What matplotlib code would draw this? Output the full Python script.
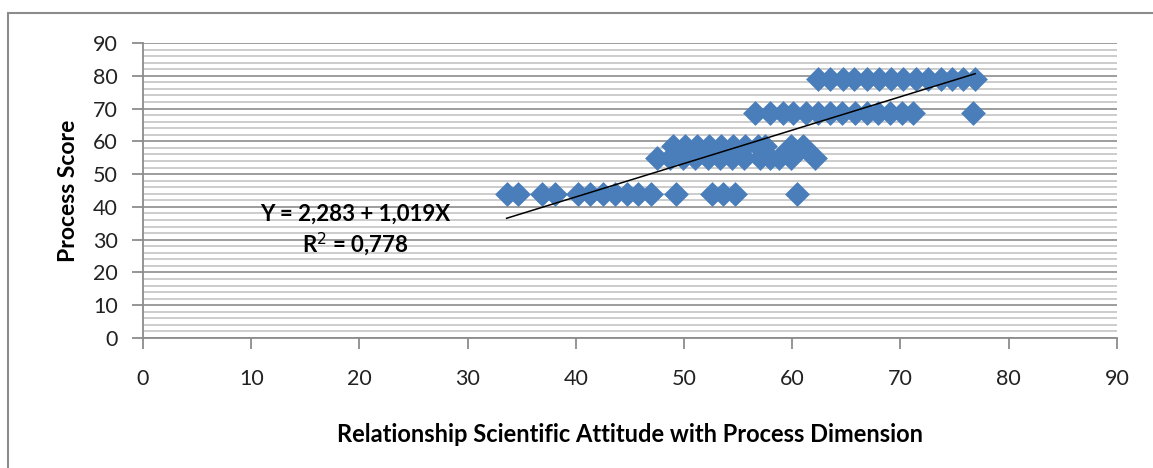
import numpy as np
import matplotlib
matplotlib.use("Agg")
import matplotlib.pyplot as plt
from matplotlib.patches import Rectangle
from matplotlib.ticker import MultipleLocator

plt.rcParams['font.family'] = ['Lato', 'DejaVu Sans']

# scatter data, one list per score row (x = scientific attitude, y = process score)
row44_x = [33.6, 34.7, 36.9, 38.1, 40.2, 41.3, 42.5, 43.6, 44.7, 45.7, 46.9,
           49.3, 52.6, 53.6, 54.7, 60.4]
row55_x = [47.5, 48.7, 49.9, 51.0, 52.2, 53.3, 54.4, 55.5, 57.0, 57.9, 58.8,
           59.9, 62.1]
row58_x = [49.0, 50.1, 51.2, 52.3, 53.4, 54.5, 55.6, 56.8, 57.5, 59.9, 61.0]
row68_x = [56.6, 57.9, 59.1, 60.1, 61.3, 62.4, 63.5, 64.6, 65.8, 66.9, 67.9,
           69.0, 70.1, 71.2, 76.7]
row79_x = [62.4, 63.5, 64.7, 65.7, 66.9, 68.0, 69.1, 70.2, 71.4, 72.5, 73.7,
           74.8, 75.8, 76.9]
row_scores = [44, 55, 58.5, 68.5, 79]

# regression from the chart annotation
intercept = 2.283
slope = 1.019
r_squared = 0.778

rows = [row44_x, row55_x, row58_x, row68_x, row79_x]
x = np.concatenate([np.array(r) for r in rows])
y = np.concatenate([np.full(len(r), s) for r, s in zip(rows, row_scores)])

fig = plt.figure(figsize=(11.53, 4.68), dpi=100)
ax = fig.add_axes([0.124, 0.2778, 0.8447, 0.6303])

# outer chart border
fig.patches.append(Rectangle((8 / 1153, -0.05), 1.2, 1 - 13 / 468 + 0.05,
                             transform=fig.transFigure, fill=False,
                             edgecolor='#8c8c8c', linewidth=1.5))

ax.scatter(x, y, marker='D', s=160, color='#4a7ebb', linewidths=0, zorder=3)

line_x = np.array([x.min(), x.max()])
ax.plot(line_x, intercept + slope * line_x, color='black', linewidth=1.1,
        zorder=4)

ax.set_xlim(0, 90)
ax.set_ylim(0, 90)
ax.xaxis.set_major_locator(MultipleLocator(10))
ax.yaxis.set_major_locator(MultipleLocator(10))
ax.yaxis.set_minor_locator(MultipleLocator(2))

ax.grid(True, which='major', axis='y', color='#8c8c8c', linewidth=1.2, zorder=0)
ax.grid(True, which='minor', axis='y', color='#c4c4c4', linewidth=1.2, zorder=0)
ax.set_axisbelow(True)

for side in ['top', 'right']:
    ax.spines[side].set_visible(False)
for side in ['left', 'bottom']:
    ax.spines[side].set_color('#8c8c8c')
    ax.spines[side].set_linewidth(1.3)

ax.tick_params(axis='both', which='major', direction='out', length=8,
               width=1.3, color='#8c8c8c', labelsize=15.5, labelcolor='#222222')
ax.tick_params(axis='y', which='minor', length=0)
ax.tick_params(axis='x', pad=14)
ax.tick_params(axis='y', pad=10)

ax.set_xlabel('Relationship Scientific Attitude with Process Dimension',
              fontsize=17, fontweight='bold', labelpad=25)
ax.set_ylabel('Process Score', fontsize=16.5, fontweight='bold', labelpad=10)

ax.text(19.6, 37.8, 'Y = 2,283 + 1,019X', ha='center', va='center',
        fontsize=16, fontweight='bold')
ax.text(19.6, 28.6, 'R$^{2}$ = ' + f'{r_squared:.3f}'.replace('.', ','),
        ha='center', va='center', fontsize=16, fontweight='bold')

fig.savefig('out.png', dpi=100)
